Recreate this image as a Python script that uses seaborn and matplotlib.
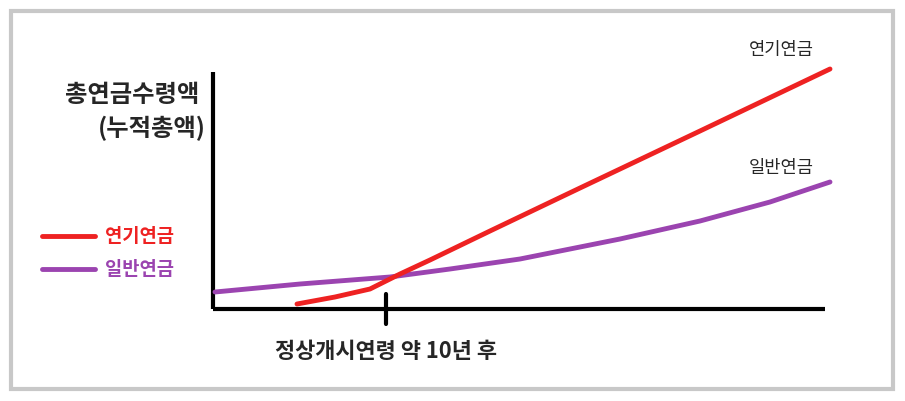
import matplotlib.pyplot as plt
import seaborn as sns
from matplotlib.patches import Rectangle

sns.set_theme(style="white")
plt.rcParams["font.family"] = ["Noto Sans CJK KR", "DejaVu Sans"]

# values (pixel space, y grows downward)
deferred_x = [297, 335, 370, 400, 430, 490, 580, 700, 830]
deferred_y = [305, 298, 290, 275, 261, 232, 189, 132, 70]
normal_x = [215, 300, 390, 450, 520, 620, 700, 770, 830]
normal_y = [293, 285, 278, 270, 260, 240, 222, 203, 183]

RED = "#ee2222"
PURPLE = "#9b44b0"

fig = plt.figure(figsize=(9.05, 4.02), dpi=100)
ax = fig.add_axes([0, 0, 1, 1])
ax.set_xlim(0, 905)
ax.set_ylim(402, 0)
ax.axis("off")

ax.add_patch(Rectangle((11, 12), 882, 378, fill=False, ec="#c8c8c8", lw=3))

# axes
ax.plot([213, 213], [73, 310], color="black", lw=3, solid_capstyle="butt")
ax.plot([213, 825], [310, 310], color="black", lw=3, solid_capstyle="butt")
ax.plot([386, 386], [295, 325], color="black", lw=3)

sns.lineplot(x=normal_x, y=normal_y, ax=ax, color=PURPLE, lw=3.5, sort=False)
sns.lineplot(x=deferred_x, y=deferred_y, ax=ax, color=RED, lw=3.5, sort=False)

ax.text(132, 95, "총연금수령액", ha="center", va="center", fontsize=17.5, fontweight="bold")
ax.text(152, 128, "(누적총액)", ha="center", va="center", fontsize=17.5, fontweight="bold")

ax.plot([42, 95], [237, 237], color=RED, lw=3.5)
ax.text(105, 237, "연기연금", color=RED, va="center", fontsize=13.5, fontweight="bold")
ax.plot([42, 95], [270, 270], color=PURPLE, lw=3.5)
ax.text(105, 270, "일반연금", color=PURPLE, va="center", fontsize=13.5, fontweight="bold")

ax.text(781, 50, "연기연금", ha="center", va="center", fontsize=12.7)
ax.text(781, 168, "일반연금", ha="center", va="center", fontsize=12.7)
ax.text(386, 352, "정상개시연령 약 10년 후", ha="center", va="center", fontsize=15.8, fontweight="bold")

fig.savefig("out.png", dpi=100)
